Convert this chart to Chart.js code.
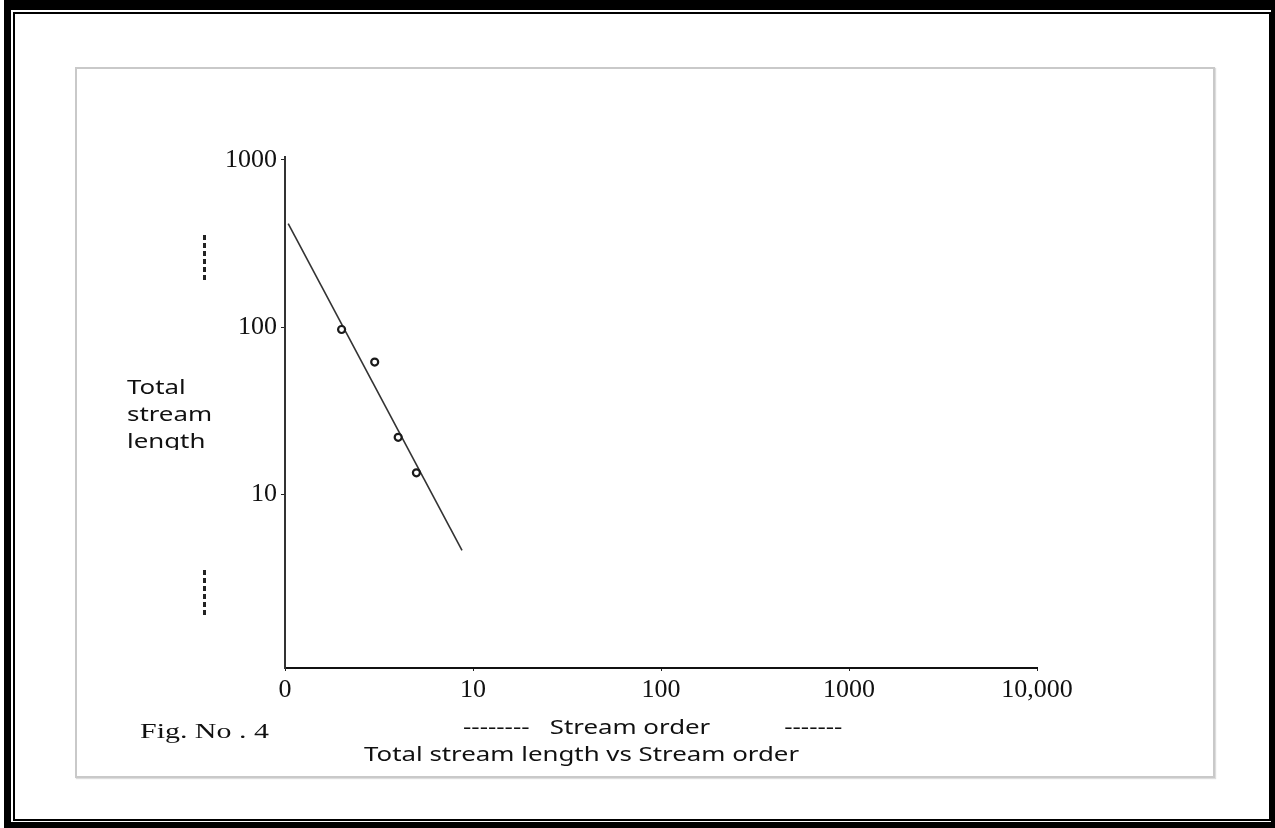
<!DOCTYPE html>
<html lang="en">
<head>
  <meta charset="UTF-8">
  <title>Total stream length vs Stream order</title>
  <script src="https://cdn.jsdelivr.net/npm/chart.js"></script>
  <style>
    html, body { margin: 0; padding: 0; background: #fff; }
    body { width: 1275px; height: 828px; position: relative; overflow: hidden; }
    .abs { position: absolute; }
    #outer { left: 4px; top: 0; width: 1271px; height: 828px; background: #000; }
    #gap { left: 11px; top: 10px; width: 1260px; height: 812px; background: #fff; }
    #thin { left: 13px; top: 12px; width: 1254px; height: 805px; border: 2px solid #000; }
    #panel { left: 75px; top: 67px; width: 1136px; height: 707px; border: 2px solid #c9c9c9; box-shadow: 1px 1px 1px #ddd; }
    #chart { left: 0; top: 0; }
    .sans { font-family: "Noto Sans", "Open Sans", sans-serif; color: #111; }
    .serif { font-family: "Liberation Serif", "DejaVu Serif", serif; color: #111; }
    /* the texts of the scan are stretched sideways */
    .wide { transform: scaleX(1.36); transform-origin: 0 0; }
    #ytitle { left: 127px; top: 374px; width: 80px; height: 76px; overflow: hidden; font-size: 19px; line-height: 27px; }
    .dash { width: 3px; background: repeating-linear-gradient(to bottom, #222 0 5px, transparent 5px 8px); }
    #xtitle { left: 463px; top: 714px; font-size: 19px; white-space: pre; }
    #fig { left: 140px; top: 718px; font-size: 22px; white-space: nowrap; }
    #caption { left: 364px; top: 741px; font-size: 19px; white-space: nowrap; }
  </style>
</head>
<body>

  <!-- frame -->
  <div id="outer" class="abs"></div>
  <div id="gap" class="abs"></div>
  <div id="thin" class="abs"></div>
  <div id="panel" class="abs"></div>

  <canvas id="chart" class="abs" width="1275" height="828"></canvas>

  <!-- texts around the plot -->
  <div id="ytitle" class="abs sans wide">Total<br>stream<br>length</div>
  <div class="abs dash" style="left:203px; top:235px; height:46px;"></div>
  <div class="abs dash" style="left:203px; top:570px; height:46px;"></div>
  <div id="xtitle" class="abs sans wide">--------   Stream order           -------</div>
  <div id="fig" class="abs serif wide">Fig. No . 4</div>
  <div id="caption" class="abs sans wide">Total stream length vs Stream order</div>

  <script>
    // valeurs
    const streamOrder = [2, 3, 4, 5];
    const streamLength = [97, 62, 22, 13.5];
    // droite d'ajustement (extremites)
    const fitOrder = [1.04, 8.74];
    const fitLength = [416, 4.64];

    const xTicks = [1, 10, 100, 1000, 10000];
    const xTickLabels = ['0', '10', '100', '1000', '10,000'];
    const yTicks = [10, 100, 1000];
    const yTickLabels = ['10', '100', '1000'];

    const tickFont = { family: '"Liberation Serif", "DejaVu Serif", serif', size: 26 };

    const ctx = document.getElementById('chart').getContext('2d');
    new Chart(ctx, {
      type: 'scatter',
      data: {
        datasets: [
          {
            label: 'Fit',
            data: fitOrder.map((x, i) => ({ x: x, y: fitLength[i] })),
            showLine: true,
            borderColor: '#333',
            borderWidth: 1.6,
            pointRadius: 0,
            order: 2
          },
          {
            label: 'Total stream length',
            data: streamOrder.map((x, i) => ({ x: x, y: streamLength[i] })),
            pointRadius: 3.5,
            pointBorderWidth: 2.2,
            borderColor: '#1a1a1a',
            backgroundColor: '#fff',
            order: 1
          }
        ]
      },
      options: {
        responsive: false,
        animation: false,
        layout: { padding: { left: 205, top: 157, right: 238, bottom: 110 } },
        plugins: { legend: { display: false }, tooltip: { enabled: false } },
        scales: {
          x: {
            type: 'logarithmic',
            min: 1,
            max: 10000,
            afterBuildTicks: s => { s.ticks = xTicks.map(v => ({ value: v })); },
            afterFit: s => { s.height = 50; },
            ticks: {
              color: '#111',
              font: tickFont,
              padding: 4,
              maxRotation: 0,
              autoSkip: false,
              callback: v => xTickLabels[xTicks.indexOf(v)]
            },
            grid: { drawOnChartArea: false, color: '#222', tickLength: 3 },
            border: { color: '#111', width: 2 }
          },
          y: {
            type: 'logarithmic',
            min: 0.92,
            max: 1042,
            afterBuildTicks: s => { s.ticks = yTicks.map(v => ({ value: v })); },
            afterFit: s => { s.width = 80; },
            ticks: {
              color: '#111',
              font: tickFont,
              padding: 4,
              autoSkip: false,
              callback: v => yTickLabels[yTicks.indexOf(v)]
            },
            grid: { drawOnChartArea: false, color: '#222', tickLength: 4 },
            border: { color: '#333', width: 2 }
          }
        }
      }
    });
  </script>

</body>
</html>
